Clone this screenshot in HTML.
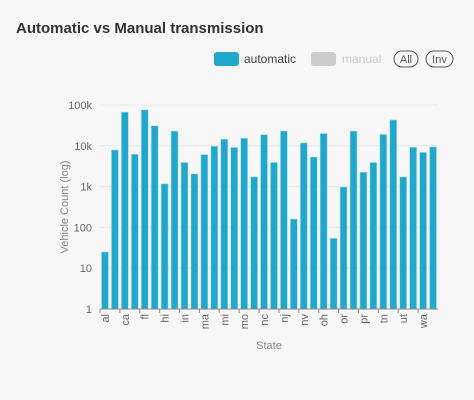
<!DOCTYPE html>
<html><head><meta charset="utf-8"><style>
body{margin:0;background:#f7f7f7;font-family:"Liberation Sans",sans-serif;}
svg{display:block}
</style></head><body>
<svg id="c" width="474" height="400">
<rect width="474" height="400" fill="#f7f7f7"/>
<text x="16" y="33" font-size="15" font-weight="bold" fill="#333">Automatic vs Manual transmission</text>
<g><rect x="214" y="52" width="25" height="14" rx="3" fill="#22a7cc"/><text x="244" y="63" font-size="12" fill="#444">automatic</text></g>
<g><rect x="311" y="52" width="25" height="14" rx="3" fill="#cccccc"/><text x="342" y="63" font-size="12" fill="#ccc">manual</text></g>
<g><rect x="394" y="51" width="24" height="16" rx="8" fill="none" stroke="#555"/><text x="406" y="63" font-size="11" fill="#555" text-anchor="middle">All</text></g>
<g><rect x="426" y="51" width="27" height="16" rx="8" fill="none" stroke="#555"/><text x="439.5" y="63" font-size="11" fill="#555" text-anchor="middle">Inv</text></g>
<g id="plot"></g>
<text transform="translate(68,207) rotate(-90)" font-size="11" fill="#888" text-anchor="middle">Vehicle Count (log)</text>
<text x="269" y="349" font-size="11" fill="#888" text-anchor="middle">State</text>
</svg>
<script>
const states=["al","ar","ca","co","fl","ga","hi","il","in","ks","ma","md","mi","mn","mo","ms","nc","nd","nj","nm","nv","ny","oh","ok","or","pa","pr","sc","tn","tx","ut","va","wa","wi"];
const automatic=[25,7900,67000,6200,76000,31000,1170,23000,3900,2050,6100,9800,14500,9100,15300,1730,18700,3900,23000,160,11800,5300,20000,54,980,23000,2250,3900,19000,43000,1730,9200,6900,9400];
const yTicks=[1,10,100,1000,10000,100000];
const yTickLabels=["1","10","100","1k","10k","100k"];
const ns="http://www.w3.org/2000/svg";
const g=document.getElementById('plot');
const X0=100,X1=438,Y0=309,Y1=105;
const band=(X1-X0)/states.length;
const y=v=>Y0-(Math.log10(v)/5)*(Y0-Y1);
const x=i=>X0+i*band;
function mk(t,a){const e=document.createElementNS(ns,t);for(const k in a)e.setAttribute(k,a[k]);g.appendChild(e);return e;}
yTicks.forEach((v,i)=>{
  if(i>0){const l=mk('line',{x1:X0,x2:X1,y1:y(v),y2:y(v),stroke:'#e6e9f2'});
  
  }
  const t=mk('text',{x:92,y:y(v)+4,'font-size':11,fill:'#666','text-anchor':'end'});t.textContent=yTickLabels[i];
  
  
});
automatic.forEach((v,i)=>{
  const r=mk('rect',{x:x(i)+1.5,y:y(v),width:band-3,height:Y0-y(v),fill:'#22a7cc',stroke:'#a9dbe9','stroke-width':0.6});
  
  
});
const ax=mk('line',{x1:X0,x2:X1,y1:Y0,y2:Y0,stroke:'#888'});


states.forEach((s,i)=>{
  if(i%2)return;
  const tk=mk('line',{x1:x(i),x2:x(i),y1:Y0,y2:Y0+4,stroke:'#888'});
  
  
  const cx=x(i)+band/2+4;
  const t=mk('text',{transform:`translate(${cx},${Y0+5}) rotate(-90)`,'font-size':11,fill:'#666','text-anchor':'end'});
  t.textContent=s;
  
  
});
</script>
</body></html>
